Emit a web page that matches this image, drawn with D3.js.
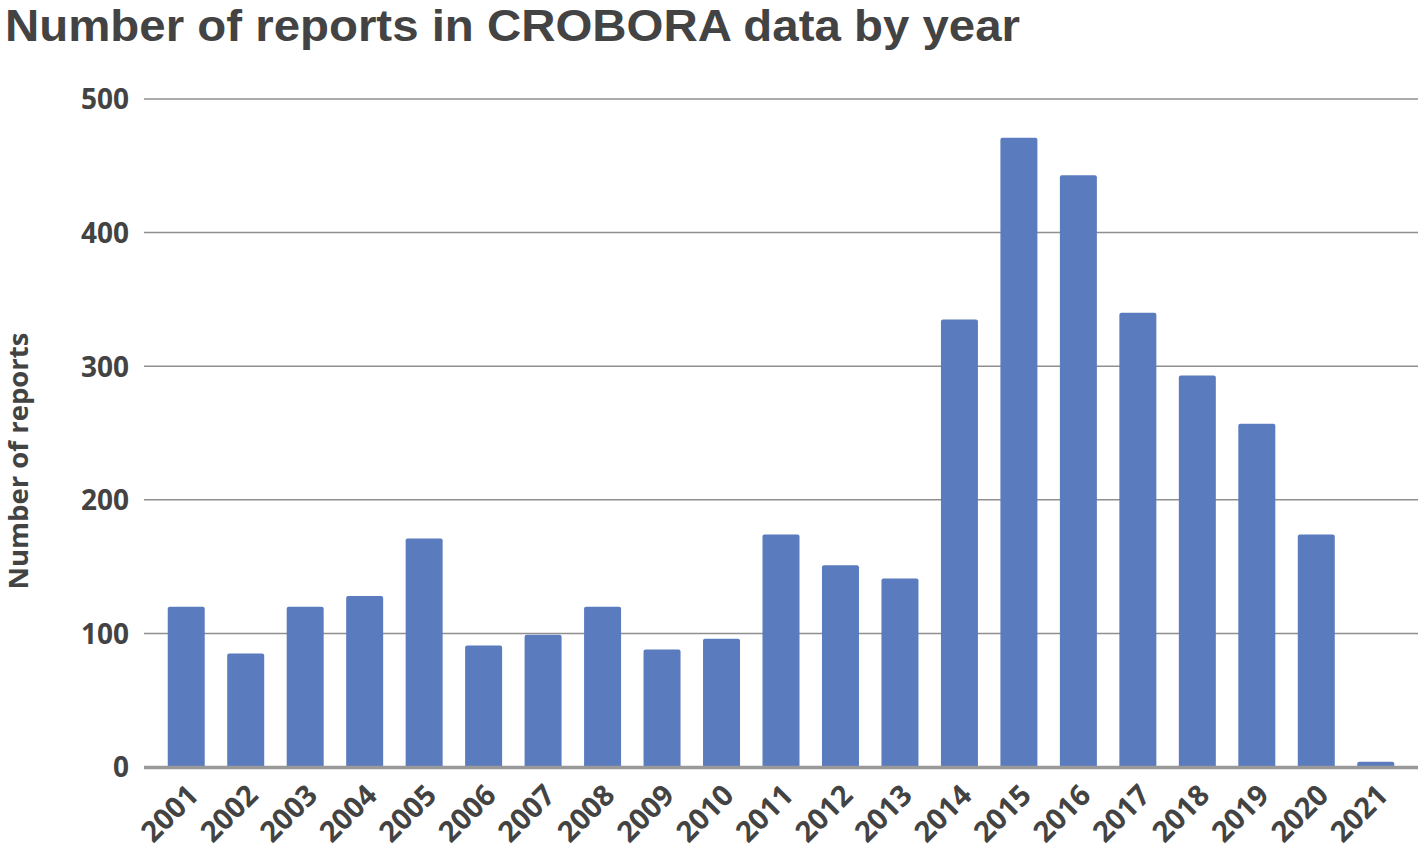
<!DOCTYPE html>
<html>
<head>
<meta charset="utf-8">
<script src="https://cdn.jsdelivr.net/npm/d3@7"></script>
<style>
  html, body { margin: 0; padding: 0; background: #fff; }
  svg { display: block; }
</style>
</head>
<body>
<script>
const years = ["2001","2002","2003","2004","2005","2006","2007","2008","2009","2010","2011","2012","2013","2014","2015","2016","2017","2018","2019","2020","2021"];
const reports = [120, 85, 120, 128, 171, 91, 99, 120, 88, 96, 174, 151, 141, 335, 471, 443, 340, 293, 257, 174, 4];
const yTicks = [0, 100, 200, 300, 400, 500];
const titleText = "Number of reports in CROBORA data by year";
const yTitle = "Number of reports";

const W = 1418, H = 854;
const svg = d3.select("body").append("svg").attr("width", W).attr("height", H);

const x = d3.scaleBand().domain(years).range([156.5, 1405.5]).paddingInner(0.378).paddingOuter(0.189);
const y = d3.scaleLinear().domain([0, 500]).range([767, 99]);

const textColor = "#434343";

// title
svg.append("text")
  .attr("x", 5).attr("y", 41)
  .attr("font-family", "'Liberation Sans', Arial, sans-serif")
  .attr("font-weight", 700)
  .attr("font-size", 45)
  .attr("textLength", 1015)
  .attr("lengthAdjust", "spacingAndGlyphs")
  .attr("fill", textColor)
  .text(titleText);

// gridlines
svg.append("g").selectAll("line")
  .data(yTicks.filter(d => d > 0))
  .join("line")
  .attr("x1", 144).attr("x2", W)
  .attr("y1", d => y(d)).attr("y2", d => y(d))
  .attr("stroke", "#8f8f8f").attr("stroke-width", 1.5);

// y tick labels
const yAxis = d3.axisLeft(y).tickValues(yTicks).tickSize(0).tickPadding(0);
const gy = svg.append("g").attr("transform", "translate(129,0)").call(yAxis);
gy.select(".domain").remove();
gy.selectAll("text")
  .attr("font-family", "'Open Sans', sans-serif")
  .attr("font-weight", 700)
  .attr("font-size", 28)
  .attr("fill", textColor)
  .attr("dy", "0.35em");

// bars with rounded top corners
const r = 2;
svg.append("g").selectAll("path")
  .data(years.map((yr, i) => ({yr, v: reports[i]})))
  .join("path")
  .attr("fill", "#5b7bbf")
  .attr("d", d => {
    const x0 = x(d.yr), w = x.bandwidth(), y0 = y(d.v), yb = y(0);
    const rr = Math.min(r, (yb - y0) / 2);
    return `M${x0},${yb}V${y0 + rr}Q${x0},${y0} ${x0 + rr},${y0}H${x0 + w - rr}Q${x0 + w},${y0} ${x0 + w},${y0 + rr}V${yb}Z`;
  });

// baseline
svg.append("line")
  .attr("x1", 144).attr("x2", W)
  .attr("y1", y(0) + 0.5).attr("y2", y(0) + 0.5)
  .attr("stroke", "#999").attr("stroke-width", 3.5);

// x labels
const xAxis = d3.axisBottom(x).tickSize(0).tickPadding(0);
const gx = svg.append("g").call(xAxis);
gx.select(".domain").remove();
gx.selectAll(".tick").attr("transform", d => `translate(${x(d) + x.bandwidth() / 2 + 14},797)`);
gx.selectAll("text")
  .attr("y", 0).attr("dy", 0)
  .attr("text-anchor", "end")
  .attr("transform", "rotate(-45)")
  .attr("font-family", "'Open Sans', sans-serif")
  .attr("font-weight", 700)
  .attr("font-size", 29)
  .attr("fill", textColor);

// y title
svg.append("text")
  .attr("transform", "translate(28,461) rotate(-90)")
  .attr("text-anchor", "middle")
  .attr("font-family", "'Open Sans', sans-serif")
  .attr("font-weight", 700)
  .attr("font-size", 27.5)
  .attr("fill", textColor)
  .text(yTitle);
</script>
</body>
</html>
